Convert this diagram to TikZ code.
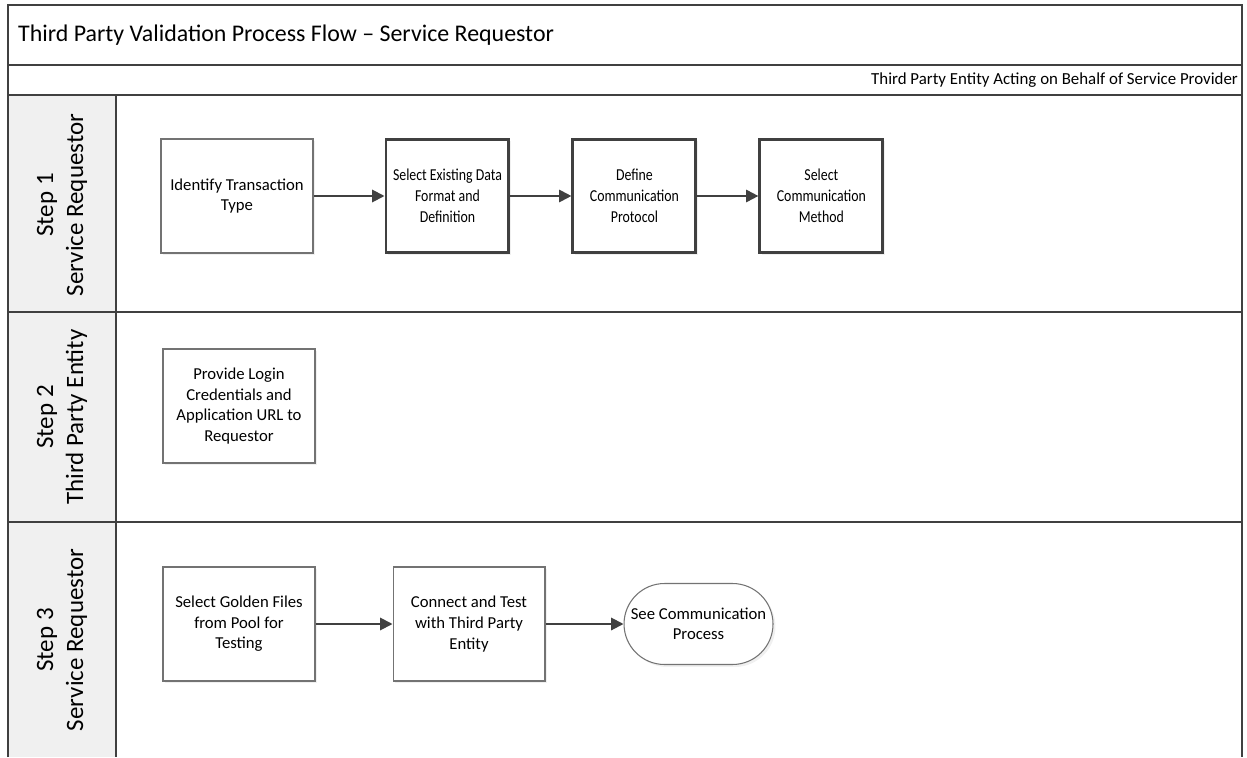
\documentclass[tikz,border=0pt]{standalone}
\usepackage{fontspec}
\setmainfont{Carlito}
\newfontfamily\narrowfont[FakeStretch=0.83]{Carlito}
\usetikzlibrary{arrows.meta, positioning, shadows}
\definecolor{frameline}{RGB}{64,64,64}
\definecolor{boxline}{RGB}{115,115,115}
\definecolor{lanefill}{RGB}{240,240,240}

\begin{document}
\begin{tikzpicture}[
    x=0.02cm, y=-0.02cm,
    node distance=1.42cm and 1.22cm,
    stepbox/.style={rectangle, draw=boxline, fill=white, line width=0.6pt,
                minimum width=3.04cm, minimum height=2.28cm,
                align=center, font=\fontsize{9.5}{11.7}\selectfont, inner sep=1pt,
                drop shadow={shadow xshift=1.4pt, shadow yshift=-1.4pt, opacity=0.12}},
    keybox/.style={stepbox, draw=frameline, line width=1.7pt, minimum width=2.46cm,
                font=\narrowfont\fontsize{9.5}{11.9}\selectfont},
    endbox/.style={stepbox, rounded corners=0.81cm,
                minimum width=2.98cm, minimum height=1.62cm},
    lanelabel/.style={rotate=90, align=center, font=\fontsize{14.2}{17}\selectfont},
    frame/.style={frameline, line width=1.1pt},
    arr/.style={-{Triangle[length=7pt, width=7pt]}, line width=1.1pt, frameline}
  ]
    \useasboundingbox (0,0) rectangle (1247,757);

    % pool and lanes
    \fill[lanefill] (8,95) rectangle (116,757);
    \draw[frame] (8,757) -- (8,5) -- (1242,5) -- (1242,757);
    \draw[frame] (8,65)  -- (1242,65);
    \draw[frame] (8,95)  -- (1242,95);
    \draw[frame] (8,312) -- (1242,312);
    \draw[frame] (8,522) -- (1242,522);
    \draw[frame] (116,95) -- (116,757);

    \node[anchor=west, font=\fontsize{13.6}{16}\selectfont] (title) at (12,35)
        {Third Party Validation Process Flow -- Service Requestor};
    \node[anchor=east, font=\fontsize{9.6}{11}\selectfont] (provider) at (1244,80)
        {Third Party Entity Acting on Behalf of Service Provider};

    \node[lanelabel] (lane1) at (62,205) {Step 1\\Service Requestor};
    \node[lanelabel] (lane2) at (62,417) {Step 2\\Third Party Entity};
    \node[lanelabel] (lane3) at (62,640) {Step 3\\Service Requestor};

    % step 1
    \node[stepbox] (ident) at (237,196) {Identify Transaction\\Type};
    \node[keybox, right=1.42cm of ident] (format) {Select Existing Data\\Format and\\Definition};
    \node[keybox, right=of format] (protocol) {Define\\Communication\\Protocol};
    \node[keybox, right=of protocol] (method) {Select\\Communication\\Method};

    % step 2
    \node[stepbox] (login) at (239,406) {Provide Login\\Credentials and\\Application URL to\\Requestor};

    % step 3
    \node[stepbox] (golden) at (239,624) {Select Golden Files\\from Pool for\\Testing};
    \node[stepbox, right=1.54cm of golden] (connect) {Connect and Test\\with Third Party\\Entity};
    \node[endbox, right=1.56cm of connect] (commproc) {See Communication\\Process};

    \draw[arr] (ident)    -- (format);
    \draw[arr] (format)   -- (protocol);
    \draw[arr] (protocol) -- (method);
    \draw[arr] (golden)   -- (connect);
    \draw[arr] (connect)  -- (commproc);
  \end{tikzpicture}
\end{document}
